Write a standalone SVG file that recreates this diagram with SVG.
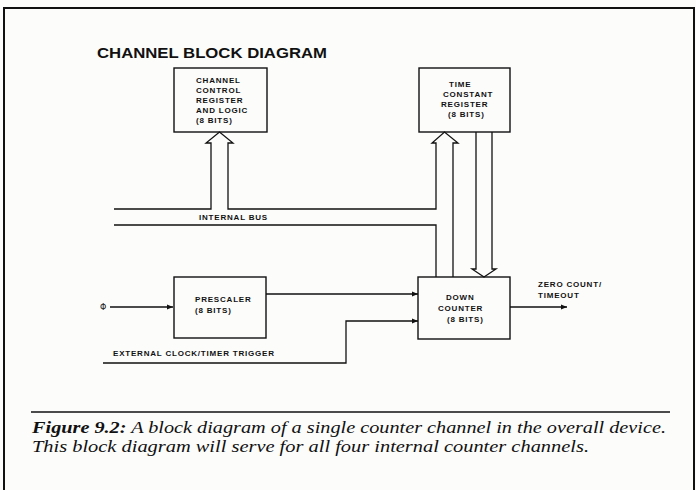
<svg xmlns="http://www.w3.org/2000/svg" width="696" height="490" viewBox="0 0 696 490">
<defs>
<style>
.ln{fill:none;stroke:#111;stroke-width:1.3}
.bx{fill:none;stroke:#111;stroke-width:1.4}
.lb{font-family:"Liberation Sans",Arial,sans-serif;font-weight:bold;font-size:8px;letter-spacing:0.8px;fill:#111}
.cap{font-family:"Liberation Serif","Times New Roman",serif;font-style:italic;font-size:17px;fill:#111}
</style>
<marker id="ah" viewBox="0 0 10 10" refX="10" refY="5" markerWidth="10" markerHeight="6" markerUnits="userSpaceOnUse" orient="auto">
<path d="M0,1 L10,5 L0,9 Z" fill="#111"/>
</marker>
</defs>
<rect x="0" y="0" width="696" height="490" fill="#fcfcfb"/>
<path d="M4,492 V8 H694 V492" fill="none" stroke="#111" stroke-width="2"/>
<text x="97" y="58" font-family="Liberation Sans,Arial,sans-serif" font-weight="bold" font-size="15" textLength="230" lengthAdjust="spacingAndGlyphs" fill="#111">CHANNEL BLOCK DIAGRAM</text>

<g id="connectors">
<path class="ln" d="M114,209 H211 V143 H206 L219.5,132 L233,143 H228 V209 H436 V143 H432 L444.5,132 L458,143 H453 V277"/>
<path class="ln" d="M114,225 H436 V277"/>
<path class="ln" d="M476,132 V269 H472 L484,277 L496,269 H492 V132"/>
<line class="ln" x1="110" y1="307" x2="173" y2="307" marker-end="url(#ah)"/>
<line class="ln" x1="266" y1="294" x2="418" y2="294" marker-end="url(#ah)"/>
<path class="ln" d="M103,363 H346 V321 H418" marker-end="url(#ah)"/>
<line class="ln" x1="510" y1="307" x2="567" y2="307" marker-end="url(#ah)"/>
<text class="lb" x="199" y="220">INTERNAL BUS</text>
<text class="lb" x="113" y="356">EXTERNAL CLOCK/TIMER TRIGGER</text>
<text class="lb" x="538" y="287" letter-spacing="0.6">ZERO COUNT/</text>
<text class="lb" x="538" y="298" letter-spacing="0.6">TIMEOUT</text>
<text x="100" y="310" font-family="DejaVu Sans,sans-serif" font-size="8" fill="#111">Φ</text>
</g>

<g id="ccr">
<rect class="bx" x="174" y="68" width="93" height="64"/>
<text class="lb" x="196" y="83">CHANNEL</text>
<text class="lb" x="196" y="93">CONTROL</text>
<text class="lb" x="196" y="103">REGISTER</text>
<text class="lb" x="196" y="113">AND LOGIC</text>
<text class="lb" x="196" y="123">(8 BITS)</text>
</g>

<g id="tcr">
<rect class="bx" x="419" y="68" width="91" height="64"/>
<text class="lb" x="449" y="87">TIME</text>
<text class="lb" x="443" y="97">CONSTANT</text>
<text class="lb" x="441" y="107">REGISTER</text>
<text class="lb" x="448" y="117">(8 BITS)</text>
</g>

<g id="prescaler">
<rect class="bx" x="174" y="277" width="92" height="61"/>
<text class="lb" x="195" y="302">PRESCALER</text>
<text class="lb" x="195" y="313">(8 BITS)</text>
</g>

<g id="downcounter">
<rect class="bx" x="418" y="277" width="92" height="62"/>
<text class="lb" x="446" y="300">DOWN</text>
<text class="lb" x="438" y="311">COUNTER</text>
<text class="lb" x="447" y="322">(8 BITS)</text>
</g>

<line x1="31" y1="412" x2="670" y2="412" stroke="#111" stroke-width="1.5"/>
<text class="cap" x="32" y="433" textLength="634" lengthAdjust="spacingAndGlyphs"><tspan font-weight="bold">Figure 9.2:</tspan> A block diagram of a single counter channel in the overall device.</text>
<text class="cap" x="32" y="452" textLength="557" lengthAdjust="spacingAndGlyphs">This block diagram will serve for all four internal counter channels.</text>
</svg>
